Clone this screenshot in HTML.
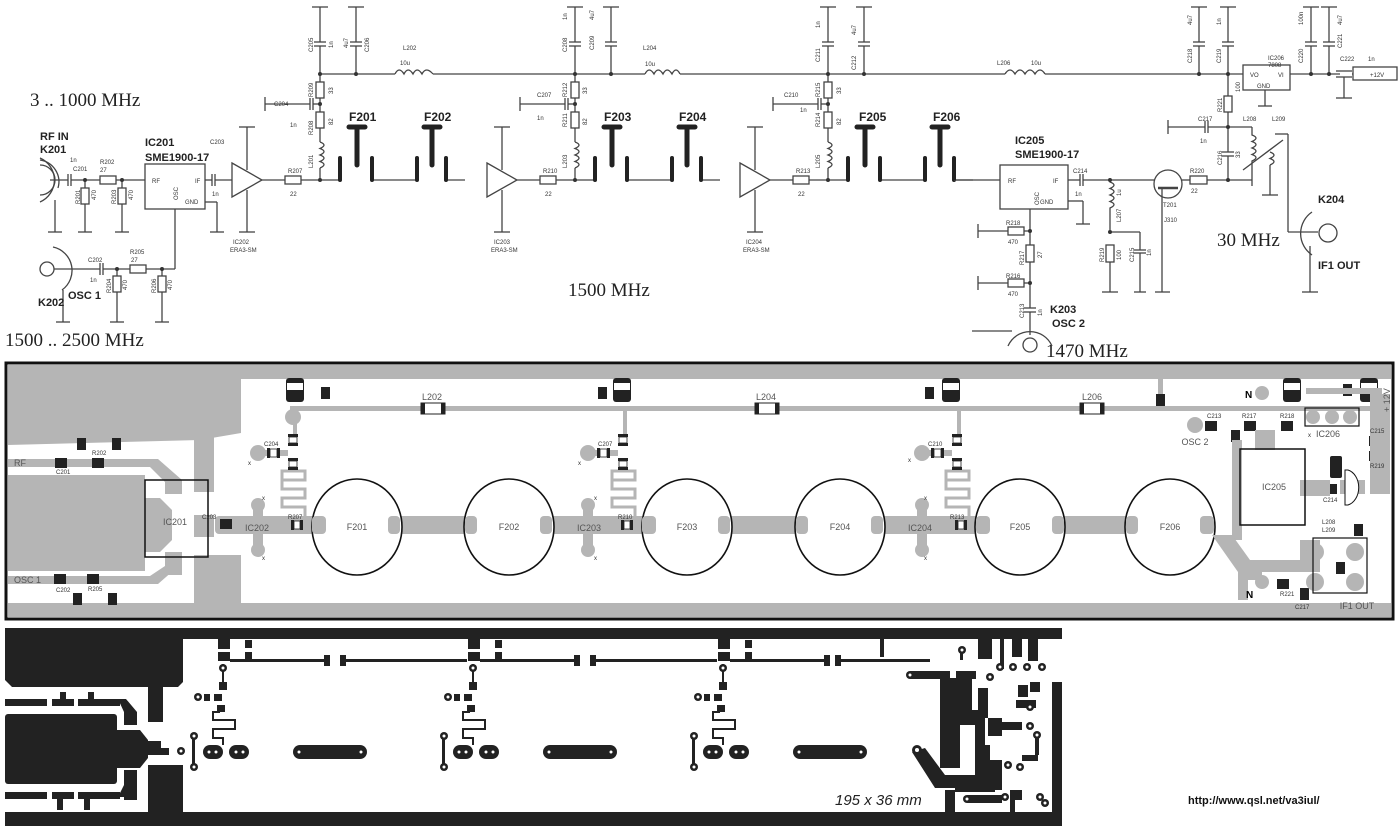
<!DOCTYPE html>
<html><head><meta charset="utf-8"><style>
html,body{margin:0;padding:0;background:#fff}
svg{display:block}
text{font-family:"Liberation Sans",Arial,sans-serif}
.s{font-size:8px;font-weight:bold;fill:#333}
.t{font-size:6px;fill:#333}
.b{font-size:12px;font-weight:bold;fill:#222}
.m{font-family:"Liberation Serif",serif;font-size:19px;fill:#222}
.p{font-size:9px;fill:#555}
.ps{font-size:6px;fill:#333}
</style></head><body>
<svg width="1399" height="827" viewBox="0 0 1399 827" xmlns="http://www.w3.org/2000/svg">
<!-- ================= SCHEMATIC ================= -->
<g stroke="#444" stroke-width="1.3" fill="none">
<!-- rail -->
<line x1="320" y1="74" x2="395" y2="74"/><line x1="433" y1="74" x2="645" y2="74"/><line x1="680" y1="74" x2="1005" y2="74"/><line x1="1045" y1="74" x2="1243" y2="74"/>
<path d="M395 74 q4-8 9 0 q4-8 9 0 q4-8 9 0 q4-8 11 0"/>
<path d="M645 74 q4-8 9 0 q4-8 9 0 q4-8 9 0 q4-8 8 0"/>
<path d="M1005 74 q5-8 10 0 q5-8 10 0 q5-8 10 0 q5-8 10 0"/>
</g>
<!-- stages -->
<g id="st1" transform="translate(320,0)">
<g stroke="#444" stroke-width="1.3" fill="none">
<polygon points="-88,163 -58,180 -88,197" fill="#fff"/>
<line x1="-73" y1="127" x2="-73" y2="170"/><line x1="-73" y1="190" x2="-73" y2="232"/>
<line x1="-81" y1="127" x2="-65" y2="127"/><line x1="-81" y1="232" x2="-65" y2="232"/>
<line x1="-58" y1="180" x2="-35" y2="180"/><rect x="-35" y="176" width="16" height="8" fill="#fff"/><line x1="-19" y1="180" x2="20" y2="180"/>
<line x1="0" y1="7" x2="0" y2="42"/><line x1="-8" y1="7" x2="8" y2="7"/><line x1="-6" y1="42" x2="6" y2="42"/><line x1="-6" y1="46" x2="6" y2="46"/><line x1="0" y1="46" x2="0" y2="82"/>
<rect x="-4" y="82" width="8" height="16" fill="#fff"/><line x1="0" y1="98" x2="0" y2="112"/><rect x="-4" y="112" width="8" height="16" fill="#fff"/><line x1="0" y1="128" x2="0" y2="142"/>
<path d="M0 142 q8 3 0 6.5 q8 3 0 6.5 q8 3 0 6.5 q8 3 0 6.5"/><line x1="0" y1="168" x2="0" y2="180"/>
<line x1="36" y1="7" x2="36" y2="42"/><line x1="28" y1="7" x2="44" y2="7"/><line x1="30" y1="42" x2="42" y2="42"/><line x1="30" y1="46" x2="42" y2="46"/><line x1="36" y1="46" x2="36" y2="74"/>
<line x1="-55" y1="104" x2="-10" y2="104"/><line x1="-55" y1="97" x2="-55" y2="111"/><line x1="-10" y1="98" x2="-10" y2="110"/><line x1="-7" y1="98" x2="-7" y2="110"/><line x1="-7" y1="104" x2="0" y2="104"/>
<line x1="52" y1="180" x2="97" y2="180"/><line x1="126" y1="180" x2="145" y2="180"/>
</g>
<g fill="#333"><circle cx="0" cy="180" r="2"/><circle cx="0" cy="104" r="2"/><circle cx="0" cy="74" r="2"/><circle cx="36" cy="74" r="2"/></g>
<g stroke="#222" stroke-width="4" stroke-linecap="round">
<line x1="20" y1="158" x2="20" y2="180"/><line x1="52" y1="158" x2="52" y2="180"/><line x1="97" y1="158" x2="97" y2="180"/><line x1="126" y1="158" x2="126" y2="180"/>
<line x1="37" y1="128" x2="37" y2="165" stroke-width="5"/><line x1="102" y1="128" x2="112" y2="128" stroke-width="0"/>
<line x1="112" y1="128" x2="112" y2="165" stroke-width="5"/>
<line x1="29" y1="127" x2="45" y2="127" stroke-width="5"/><line x1="104" y1="127" x2="120" y2="127" stroke-width="5"/>
</g>
</g>
<use href="#st1" transform="translate(255,0)"/>
<use href="#st1" transform="translate(508,0)"/>
<!-- stage labels -->
<g class="t">
<text x="-30" y="0"/>
<text x="288" y="173">R207</text><text x="290" y="196">22</text>
<text x="543" y="173">R210</text><text x="545" y="196">22</text>
<text x="796" y="173">R213</text><text x="798" y="196">22</text>
<text x="233" y="244">IC202</text><text x="230" y="252">ERA3-SM</text>
<text x="494" y="244">IC203</text><text x="491" y="252">ERA3-SM</text>
<text x="746" y="244">IC204</text><text x="743" y="252">ERA3-SM</text>
<text x="274" y="106">C204</text><text x="290" y="127">1n</text>
<text x="537" y="97">C207</text><text x="537" y="120">1n</text>
<text x="784" y="97">C210</text><text x="800" y="112">1n</text>
<text x="403" y="50">L202</text><text x="400" y="65">10u</text>
<text x="643" y="50">L204</text><text x="645" y="66">10u</text>
<text x="997" y="65">L206</text><text x="1031" y="65">10u</text>
</g>
<g class="t">
<text transform="translate(313,52) rotate(-90)">C205</text><text transform="translate(333,48) rotate(-90)">1n</text>
<text transform="translate(348,48) rotate(-90)">4u7</text><text transform="translate(369,52) rotate(-90)">C206</text>
<text transform="translate(313,97) rotate(-90)">R209</text><text transform="translate(333,94) rotate(-90)">33</text>
<text transform="translate(313,135) rotate(-90)">R208</text><text transform="translate(333,125) rotate(-90)">82</text>
<text transform="translate(313,168) rotate(-90)">L201</text>
<text transform="translate(567,52) rotate(-90)">C208</text><text transform="translate(567,20) rotate(-90)">1n</text>
<text transform="translate(594,50) rotate(-90)">C209</text><text transform="translate(594,20) rotate(-90)">4u7</text>
<text transform="translate(567,97) rotate(-90)">R212</text><text transform="translate(587,94) rotate(-90)">33</text>
<text transform="translate(567,127) rotate(-90)">R211</text><text transform="translate(587,125) rotate(-90)">82</text>
<text transform="translate(567,168) rotate(-90)">L203</text>
<text transform="translate(820,62) rotate(-90)">C211</text><text transform="translate(820,28) rotate(-90)">1n</text>
<text transform="translate(856,70) rotate(-90)">C212</text><text transform="translate(856,35) rotate(-90)">4u7</text>
<text transform="translate(820,97) rotate(-90)">R215</text><text transform="translate(841,94) rotate(-90)">33</text>
<text transform="translate(820,127) rotate(-90)">R214</text><text transform="translate(841,125) rotate(-90)">82</text>
<text transform="translate(820,168) rotate(-90)">L205</text>
</g>
<g class="b">
<text x="349" y="121">F201</text><text x="424" y="121">F202</text><text x="604" y="121">F203</text><text x="679" y="121">F204</text><text x="859" y="121">F205</text><text x="933" y="121">F206</text>
</g>
<!-- left input section -->
<g stroke="#444" stroke-width="1.3" fill="none">
<path d="M40 165 A15 15 0 0 1 40 195"/><path d="M40 160 A22 22 0 0 1 58 188" />
<path d="M38 156 A26 26 0 0 1 40 204" stroke="none"/>
<path d="M40 158 A24 24 0 0 1 40 202"/>
<line x1="50" y1="180" x2="68" y2="180"/><line x1="68" y1="174" x2="68" y2="186"/><line x1="71" y1="174" x2="71" y2="186"/><line x1="71" y1="180" x2="100" y2="180"/>
<rect x="100" y="176" width="16" height="8" fill="#fff"/><line x1="116" y1="180" x2="145" y2="180"/>
<line x1="55" y1="200" x2="55" y2="232"/><line x1="48" y1="232" x2="62" y2="232"/>
<line x1="85" y1="180" x2="85" y2="188"/><rect x="81" y="188" width="8" height="16" fill="#fff"/><line x1="85" y1="204" x2="85" y2="232"/><line x1="78" y1="232" x2="92" y2="232"/>
<line x1="122" y1="180" x2="122" y2="188"/><rect x="118" y="188" width="8" height="16" fill="#fff"/><line x1="122" y1="204" x2="122" y2="232"/><line x1="115" y1="232" x2="129" y2="232"/>
<rect x="145" y="164" width="60" height="45" fill="#fff"/>
<line x1="205" y1="180" x2="212" y2="180"/><line x1="212" y1="174" x2="212" y2="186"/><line x1="215" y1="174" x2="215" y2="186"/><line x1="215" y1="180" x2="232" y2="180"/>
<line x1="205" y1="202" x2="217" y2="202"/><line x1="217" y1="202" x2="217" y2="232"/><line x1="210" y1="232" x2="224" y2="232"/>
<line x1="175" y1="209" x2="175" y2="269"/>
<circle cx="47" cy="269" r="7"/><path d="M53 247 A24 24 0 0 1 62 290"/>
<line x1="54" y1="269" x2="100" y2="269"/><line x1="100" y1="263" x2="100" y2="275"/><line x1="103" y1="263" x2="103" y2="275"/><line x1="103" y1="269" x2="130" y2="269"/>
<rect x="130" y="265" width="16" height="8" fill="#fff"/><line x1="146" y1="269" x2="175" y2="269"/>
<line x1="63" y1="290" x2="63" y2="322"/><line x1="56" y1="322" x2="70" y2="322"/>
<line x1="117" y1="269" x2="117" y2="276"/><rect x="113" y="276" width="8" height="16" fill="#fff"/><line x1="117" y1="292" x2="117" y2="322"/><line x1="110" y1="322" x2="124" y2="322"/>
<line x1="162" y1="269" x2="162" y2="276"/><rect x="158" y="276" width="8" height="16" fill="#fff"/><line x1="162" y1="292" x2="162" y2="322"/><line x1="155" y1="322" x2="169" y2="322"/>
<line x1="232" y1="180" x2="232" y2="180"/>
</g>
<rect x="-2" y="0" width="0" height="0"/>
<g fill="#333"><circle cx="85" cy="180" r="2"/><circle cx="122" cy="180" r="2"/><circle cx="117" cy="269" r="2"/><circle cx="162" cy="269" r="2"/></g>
<text x="30" y="106" class="m">3 .. 1000 MHz</text>
<text x="5" y="346" class="m">1500 .. 2500 MHz</text>
<text x="568" y="296" class="m">1500 MHz</text>
<text x="1217" y="246" class="m">30 MHz</text>
<text x="1046" y="357" class="m">1470 MHz</text>
<g class="b" style="font-size:11px"><text x="40" y="140">RF IN</text><text x="40" y="153">K201</text><text x="68" y="299">OSC 1</text><text x="38" y="306">K202</text>
<text x="145" y="146">IC201</text><text x="145" y="161">SME1900-17</text>
<text x="1015" y="144">IC205</text><text x="1015" y="158">SME1900-17</text>
<text x="1318" y="203">K204</text><text x="1318" y="269">IF1 OUT</text>
<text x="1050" y="313">K203</text><text x="1052" y="327">OSC 2</text></g>
<g class="t"><text x="70" y="162">1n</text><text x="73" y="171">C201</text><text x="100" y="164">R202</text><text x="100" y="172">27</text>
<text x="152" y="183">RF</text><text x="195" y="183">IF</text><text x="185" y="204">GND</text><text x="210" y="144">C203</text><text x="212" y="196">1n</text>
<text x="88" y="262">C202</text><text x="90" y="282">1n</text><text x="130" y="254">R205</text><text x="131" y="262">27</text>
<text transform="translate(80,204) rotate(-90)">R201</text><text transform="translate(96,200) rotate(-90)">470</text>
<text transform="translate(116,204) rotate(-90)">R203</text><text transform="translate(133,200) rotate(-90)">470</text>
<text transform="translate(111,293) rotate(-90)">R204</text><text transform="translate(127,290) rotate(-90)">470</text>
<text transform="translate(156,293) rotate(-90)">R206</text><text transform="translate(172,290) rotate(-90)">470</text>
<text transform="translate(178,200) rotate(-90)">OSC</text>
</g>
<!-- right section -->
<g stroke="#444" stroke-width="1.3" fill="none">
<line x1="954" y1="180" x2="1000" y2="180"/>
<rect x="1000" y="165" width="68" height="44" fill="#fff"/>
<line x1="1068" y1="180" x2="1080" y2="180"/><line x1="1080" y1="174" x2="1080" y2="186"/><line x1="1083" y1="174" x2="1083" y2="186"/><line x1="1083" y1="180" x2="1155" y2="180"/>
<line x1="1068" y1="201" x2="1083" y2="201"/><line x1="1083" y1="201" x2="1083" y2="224"/><line x1="1076" y1="224" x2="1090" y2="224"/>
<path d="M1110 180 v2 q8 3 0 6.5 q8 3 0 6.5 q8 3 0 6.5 q8 3 0 6.5 v22"/>
<rect x="1106" y="245" width="8" height="17" fill="#fff"/><line x1="1110" y1="262" x2="1110" y2="292"/><line x1="1102" y1="292" x2="1118" y2="292"/>
<line x1="1110" y1="232" x2="1140" y2="232"/><line x1="1140" y1="232" x2="1140" y2="250"/><line x1="1134" y1="250" x2="1146" y2="250"/><line x1="1134" y1="253" x2="1146" y2="253"/><line x1="1140" y1="253" x2="1140" y2="292"/><line x1="1134" y1="292" x2="1146" y2="292"/>
<circle cx="1168" cy="184" r="14"/><line x1="1158" y1="188" x2="1178" y2="188" stroke-width="2.5"/><line x1="1162" y1="188" x2="1162" y2="200"/><line x1="1162" y1="200" x2="1162" y2="292"/><line x1="1155" y1="292" x2="1170" y2="292"/>
<line x1="1182" y1="180" x2="1190" y2="180"/><rect x="1190" y="176" width="17" height="8" fill="#fff"/><line x1="1207" y1="180" x2="1252" y2="180"/>
<line x1="1199" y1="7" x2="1199" y2="42"/><line x1="1191" y1="7" x2="1207" y2="7"/><line x1="1193" y1="42" x2="1205" y2="42"/><line x1="1193" y1="46" x2="1205" y2="46"/><line x1="1199" y1="46" x2="1199" y2="74"/>
<line x1="1228" y1="7" x2="1228" y2="42"/><line x1="1220" y1="7" x2="1236" y2="7"/><line x1="1222" y1="42" x2="1234" y2="42"/><line x1="1222" y1="46" x2="1234" y2="46"/><line x1="1228" y1="46" x2="1228" y2="96"/>
<rect x="1224" y="96" width="8" height="16" fill="#fff"/><line x1="1228" y1="112" x2="1228" y2="152"/><line x1="1222" y1="152" x2="1234" y2="152"/><line x1="1222" y1="156" x2="1234" y2="156"/><line x1="1228" y1="156" x2="1228" y2="180"/>
<line x1="1168" y1="120" x2="1168" y2="134"/><line x1="1168" y1="127" x2="1205" y2="127"/><line x1="1205" y1="121" x2="1205" y2="133"/><line x1="1208" y1="121" x2="1208" y2="133"/><line x1="1208" y1="127" x2="1252" y2="127"/>
<path d="M1252 127 v8 q8 3 0 6.5 q8 3 0 6.5 q8 3 0 6.5 q8 3 0 6.5 v25"/>
<path d="M1270 152 q8 3 0 6.5 q8 3 0 6.5"/><line x1="1270" y1="165" x2="1270" y2="195"/><line x1="1262" y1="195" x2="1278" y2="195"/>
<line x1="1243" y1="170" x2="1283" y2="140"/><line x1="1275" y1="134" x2="1288" y2="134"/><line x1="1288" y1="134" x2="1288" y2="232"/><line x1="1288" y1="232" x2="1318" y2="232"/>
<rect x="1243" y="65" width="47" height="25" fill="#fff"/><line x1="1265" y1="90" x2="1265" y2="106"/><line x1="1258" y1="106" x2="1272" y2="106"/>
<line x1="1290" y1="74" x2="1340" y2="74"/><line x1="1336" y1="71" x2="1352" y2="71"/><line x1="1336" y1="77" x2="1352" y2="77"/><line x1="1344" y1="77" x2="1344" y2="98"/><line x1="1336" y1="98" x2="1352" y2="98"/><line x1="1352" y1="74" x2="1353" y2="74"/>
<rect x="1353" y="67" width="44" height="13" fill="#fff"/>
<line x1="1311" y1="7" x2="1311" y2="42"/><line x1="1303" y1="7" x2="1319" y2="7"/><line x1="1305" y1="42" x2="1317" y2="42"/><line x1="1305" y1="46" x2="1317" y2="46"/><line x1="1311" y1="46" x2="1311" y2="74"/>
<line x1="1329" y1="7" x2="1329" y2="42"/><line x1="1321" y1="7" x2="1337" y2="7"/><line x1="1323" y1="42" x2="1335" y2="42"/><line x1="1323" y1="46" x2="1335" y2="46"/><line x1="1329" y1="46" x2="1329" y2="74"/>
<circle cx="1328" cy="233" r="9"/><path d="M1312 212 A26 26 0 0 0 1312 255"/><line x1="1310" y1="246" x2="1310" y2="292"/><line x1="1302" y1="292" x2="1318" y2="292"/>
<line x1="1030" y1="209" x2="1030" y2="245"/><line x1="978" y1="224" x2="978" y2="238"/><line x1="978" y1="231" x2="1008" y2="231"/><rect x="1008" y="227" width="16" height="8" fill="#fff"/><line x1="1024" y1="231" x2="1030" y2="231"/>
<rect x="1026" y="245" width="8" height="17" fill="#fff"/><line x1="1030" y1="262" x2="1030" y2="308"/>
<line x1="978" y1="276" x2="978" y2="290"/><line x1="978" y1="283" x2="1008" y2="283"/><rect x="1008" y="279" width="16" height="8" fill="#fff"/><line x1="1024" y1="283" x2="1030" y2="283"/>
<line x1="1024" y1="308" x2="1036" y2="308"/><line x1="1024" y1="312" x2="1036" y2="312"/><line x1="1030" y1="312" x2="1030" y2="335"/>
<line x1="972" y1="331" x2="1012" y2="331"/><circle cx="1030" cy="345" r="7"/><path d="M1008 346 A24 24 0 0 1 1052 346"/>
</g>
<g fill="#333"><circle cx="1110" cy="180" r="2"/><circle cx="1110" cy="232" r="2"/><circle cx="1228" cy="180" r="2"/><circle cx="1228" cy="127" r="2"/><circle cx="1228" cy="74" r="2"/><circle cx="1199" cy="74" r="2"/><circle cx="1311" cy="74" r="2"/><circle cx="1329" cy="74" r="2"/><circle cx="1030" cy="231" r="2"/><circle cx="1030" cy="283" r="2"/></g>
<g class="t"><text x="1008" y="183">RF</text><text x="1053" y="183">IF</text><text x="1040" y="204">GND</text><text x="1073" y="173">C214</text><text x="1075" y="196">1n</text>
<text x="1190" y="173">R220</text><text x="1191" y="193">22</text><text x="1163" y="207">T201</text><text x="1164" y="222">J310</text>
<text x="1198" y="121">C217</text><text x="1200" y="143">1n</text><text x="1243" y="121">L208</text><text x="1272" y="121">L209</text>
<text x="1268" y="60">IC206</text><text x="1268" y="67">7808</text><text x="1250" y="77">VO</text><text x="1278" y="77">VI</text><text x="1257" y="88">GND</text>
<text x="1340" y="61">C222</text><text x="1368" y="61">1n</text><text x="1370" y="77">+12V</text>
<text x="1006" y="225">R218</text><text x="1008" y="244">470</text><text x="1006" y="278">R216</text><text x="1008" y="296">470</text>
<text transform="translate(1024,265) rotate(-90)">R217</text><text transform="translate(1042,258) rotate(-90)">27</text>
<text transform="translate(1024,318) rotate(-90)">C213</text><text transform="translate(1042,316) rotate(-90)">1n</text>
<text transform="translate(1104,262) rotate(-90)">R219</text><text transform="translate(1121,260) rotate(-90)">100</text>
<text transform="translate(1134,262) rotate(-90)">C215</text><text transform="translate(1151,256) rotate(-90)">1n</text>
<text transform="translate(1121,196) rotate(-90)">1u</text><text transform="translate(1121,222) rotate(-90)">L207</text>
<text transform="translate(1222,112) rotate(-90)">R221</text><text transform="translate(1240,92) rotate(-90)">100</text>
<text transform="translate(1222,165) rotate(-90)">C216</text><text transform="translate(1240,158) rotate(-90)">33</text>
<text transform="translate(1192,63) rotate(-90)">C218</text><text transform="translate(1192,25) rotate(-90)">4u7</text>
<text transform="translate(1221,63) rotate(-90)">C219</text><text transform="translate(1221,25) rotate(-90)">1n</text>
<text transform="translate(1303,63) rotate(-90)">C220</text><text transform="translate(1303,25) rotate(-90)">100n</text>
<text transform="translate(1342,48) rotate(-90)">C221</text><text transform="translate(1342,25) rotate(-90)">4u7</text>
<text transform="translate(1039,205) rotate(-90)">OSC</text>
</g>
<line x1="954" y1="158" x2="954" y2="180" stroke="#222" stroke-width="4"/>

<!-- ================= PCB (silk) ================= -->
<rect x="6" y="363" width="1387" height="256" fill="#fff" stroke="#111" stroke-width="3"/>
<g fill="#b5b5b5">
<rect x="8" y="365" width="1383" height="14"/>
<polygon points="8,365 241,365 241,433 200,440 8,445"/>
<rect x="194" y="430" width="20" height="62"/>
<rect x="8" y="459" width="150" height="8"/><polygon points="150,459 158,459 182,480 182,494 165,494 165,482 150,467"/>
<rect x="8" y="475" width="137" height="96"/><polygon points="140,498 160,498 172,510 172,540 160,552 140,552"/>
<rect x="165" y="555" width="17" height="20"/>
<rect x="8" y="576" width="150" height="8"/><polygon points="150,584 158,584 182,563 182,552 165,552 165,566 150,576"/>
<rect x="194" y="555" width="47" height="50"/>
<rect x="8" y="603" width="1383" height="14"/>
<rect x="194" y="515" width="20" height="22"/>
<rect x="290" y="406" width="1090" height="5"/>
<rect x="1158" y="378" width="5" height="30"/>
<rect x="293" y="410" width="4" height="25"/><rect x="623" y="410" width="4" height="25"/><rect x="957" y="410" width="4" height="25"/>
<circle cx="293" cy="417" r="8"/>
<rect x="215" y="516" width="1000" height="18" rx="4"/>
<circle cx="240" cy="525" r="6"/>
</g>
<!-- pcb stages -->
<g id="ps">
<g fill="#b5b5b5"><circle cx="258" cy="453" r="8"/><rect x="258" y="450" width="30" height="6"/>
<rect x="253" y="505" width="10" height="45" rx="5"/><circle cx="258" cy="505" r="7"/><circle cx="258" cy="550" r="7"/></g>
<polyline points="289,471 305,471 305,480 282,480 282,489 305,489 305,498 282,498 282,507 305,507 305,516" fill="none" stroke="#b5b5b5" stroke-width="3"/>
<polyline points="289,471 282,471 282,480" fill="none" stroke="#b5b5b5" stroke-width="3"/>
<g fill="#222"><rect x="288" y="434" width="10" height="3"/><rect x="288" y="443" width="10" height="3"/><rect x="288" y="458" width="10" height="3"/><rect x="288" y="467" width="10" height="3"/>
<rect x="267" y="448" width="3" height="10"/><rect x="277" y="448" width="3" height="10"/>
<rect x="291" y="520" width="3" height="10"/><rect x="300" y="520" width="3" height="10"/></g>
<g fill="#fff" stroke="#222" stroke-width="0.8"><rect x="289" y="437" width="8" height="6"/><rect x="289" y="461" width="8" height="6"/><rect x="270" y="449" width="7" height="8"/><rect x="294" y="521" width="6" height="8"/></g>
</g>
<use href="#ps" transform="translate(330,0)"/>
<use href="#ps" transform="translate(664,0)"/>
<!-- filter circles -->
<g fill="#fff" stroke="#111" stroke-width="1.6">
<ellipse cx="357" cy="527" rx="45" ry="48"/><ellipse cx="509" cy="527" rx="45" ry="48"/><ellipse cx="687" cy="527" rx="45" ry="48"/><ellipse cx="840" cy="527" rx="45" ry="48"/><ellipse cx="1020" cy="527" rx="45" ry="48"/><ellipse cx="1170" cy="527" rx="45" ry="48"/>
</g>
<g fill="#b5b5b5"><rect x="312" y="516" width="14" height="18" rx="4"/><rect x="388" y="516" width="12" height="18" rx="4"/><rect x="465" y="516" width="12" height="18" rx="4"/><rect x="540" y="516" width="12" height="18" rx="4"/>
<rect x="642" y="516" width="14" height="18" rx="4"/><rect x="718" y="516" width="12" height="18" rx="4"/><rect x="796" y="516" width="12" height="18" rx="4"/><rect x="871" y="516" width="12" height="18" rx="4"/>
<rect x="976" y="516" width="14" height="18" rx="4"/><rect x="1052" y="516" width="12" height="18" rx="4"/><rect x="1126" y="516" width="12" height="18" rx="4"/><rect x="1200" y="516" width="14" height="18" rx="4"/></g>
<g class="p" text-anchor="middle"><text x="357" y="530">F201</text><text x="509" y="530">F202</text><text x="687" y="530">F203</text><text x="840" y="530">F204</text><text x="1020" y="530">F205</text><text x="1170" y="530">F206</text>
<text x="257" y="531">IC202</text><text x="589" y="531">IC203</text><text x="920" y="531">IC204</text><text x="432" y="400">L202</text><text x="766" y="400">L204</text><text x="1092" y="400">L206</text>
<text x="175" y="525">IC201</text><text x="1274" y="490">IC205</text><text x="1328" y="437">IC206</text><text x="1195" y="445">OSC 2</text><text x="1357" y="609">IF1 OUT</text>
</g>
<text x="14" y="466" class="p">RF</text><text x="14" y="583" class="p">OSC 1</text>
<rect x="145" y="480" width="63" height="77" fill="none" stroke="#111" stroke-width="1.5"/>
<!-- inductors & caps on rail -->
<g><rect x="421" y="403" width="24" height="11" fill="#fff" stroke="#222"/><rect x="421" y="403" width="4" height="11" fill="#222"/><rect x="441" y="403" width="4" height="11" fill="#222"/>
<rect x="755" y="403" width="24" height="11" fill="#fff" stroke="#222"/><rect x="755" y="403" width="4" height="11" fill="#222"/><rect x="775" y="403" width="4" height="11" fill="#222"/>
<rect x="1080" y="403" width="24" height="11" fill="#fff" stroke="#222"/><rect x="1080" y="403" width="4" height="11" fill="#222"/><rect x="1100" y="403" width="4" height="11" fill="#222"/></g>
<g>
<rect x="286" y="378" width="18" height="24" rx="3" fill="#222"/><rect x="287" y="383" width="16" height="7" fill="#fff"/>
<rect x="613" y="378" width="18" height="24" rx="3" fill="#222"/><rect x="614" y="383" width="16" height="7" fill="#fff"/>
<rect x="942" y="378" width="18" height="24" rx="3" fill="#222"/><rect x="943" y="383" width="16" height="7" fill="#fff"/>
<rect x="1283" y="378" width="18" height="24" rx="3" fill="#222"/><rect x="1284" y="383" width="16" height="7" fill="#fff"/>
<rect x="1360" y="378" width="18" height="24" rx="3" fill="#222"/><rect x="1361" y="383" width="16" height="7" fill="#fff"/>
</g>
<g fill="#222"><rect x="321" y="387" width="9" height="12"/><rect x="598" y="387" width="9" height="12"/><rect x="925" y="387" width="9" height="12"/><rect x="1156" y="394" width="9" height="12"/><rect x="1343" y="384" width="9" height="12"/>
<rect x="54" y="574" width="12" height="10"/><rect x="87" y="574" width="12" height="10"/><rect x="55" y="458" width="12" height="10"/><rect x="92" y="458" width="12" height="10"/><rect x="77" y="438" width="9" height="12"/><rect x="112" y="438" width="9" height="12"/><rect x="73" y="593" width="9" height="12"/><rect x="108" y="593" width="9" height="12"/>
<rect x="220" y="519" width="12" height="10"/>
<rect x="1205" y="421" width="12" height="10"/><rect x="1244" y="421" width="12" height="10"/><rect x="1281" y="421" width="12" height="10"/><rect x="1231" y="430" width="9" height="12"/><rect x="1369" y="436" width="12" height="10"/><rect x="1369" y="451" width="12" height="10"/><rect x="1325" y="484" width="12" height="10"/><rect x="1354" y="524" width="9" height="12"/><rect x="1336" y="562" width="9" height="12"/><rect x="1277" y="579" width="12" height="10"/><rect x="1300" y="588" width="9" height="12"/>
<rect x="1330" y="456" width="12" height="22" rx="2"/></g>
<g fill="#b5b5b5">
<circle cx="1262" cy="393" r="7"/><circle cx="1195" cy="425" r="8"/>
<rect x="1232" y="440" width="10" height="100"/><rect x="1255" y="430" width="20" height="20"/>
<polygon points="1212,535 1232,535 1250,560 1300,560 1300,540 1320,540 1320,572 1262,572 1262,580 1248,580 1248,600 1238,600 1238,572"/>
<rect x="1300" y="480" width="30" height="16"/><rect x="1340" y="480" width="25" height="14"/>
<rect x="1306" y="388" width="76" height="6"/><rect x="1370" y="394" width="20" height="100"/>
<circle cx="1315" cy="552" r="9"/><circle cx="1355" cy="552" r="9"/><circle cx="1315" cy="582" r="9"/><circle cx="1355" cy="582" r="9"/><circle cx="1262" cy="582" r="7"/>
</g>
<rect x="1240" y="449" width="65" height="76" fill="none" stroke="#111" stroke-width="1.5"/>
<rect x="1305" y="408" width="54" height="18" fill="none" stroke="#111" stroke-width="1.2"/>
<g fill="#b5b5b5"><circle cx="1313" cy="417" r="7"/><circle cx="1332" cy="417" r="7"/><circle cx="1350" cy="417" r="7"/></g>
<rect x="1313" y="538" width="54" height="55" fill="none" stroke="#111" stroke-width="1.2"/>
<path d="M1348 470 A14 18 0 0 1 1348 505 L1345 505 L1345 470 Z" fill="#fff" stroke="#111" stroke-width="1"/>
<text x="1245" y="398" style="font-size:10px;font-weight:bold">N</text><text x="1246" y="598" style="font-size:10px;font-weight:bold">N</text>
<text transform="translate(1390,412) rotate(-90)" class="p">+ 12V</text>
<g class="ps"><text x="202" y="519">C203</text><text x="288" y="519">R207</text><text x="618" y="519">R210</text><text x="950" y="519">R213</text>
<text x="264" y="446">C204</text><text x="598" y="446">C207</text><text x="928" y="446">C210</text><text x="56" y="474">C201</text><text x="92" y="455">R202</text><text x="56" y="592">C202</text><text x="88" y="591">R205</text>
<text x="1207" y="418">C213</text><text x="1242" y="418">R217</text><text x="1280" y="418">R218</text><text x="1370" y="433">C215</text><text x="1370" y="468">R219</text><text x="1323" y="502">C214</text><text x="1280" y="596">R221</text><text x="1295" y="609">C217</text>
<text x="1322" y="524">L208</text><text x="1322" y="532">L209</text>
<text x="248" y="465">x</text><text x="262" y="500">x</text><text x="262" y="560">x</text><text x="578" y="465">x</text><text x="594" y="500">x</text><text x="594" y="560">x</text><text x="908" y="462">x</text><text x="924" y="500">x</text><text x="924" y="560">x</text><text x="1308" y="437">x</text>
</g>

<!-- ================= COPPER ================= -->
<g fill="#222">
<rect x="5" y="628" width="1057" height="11"/>
<polygon points="5,628 183,628 183,682 178,687 12,687 5,680"/>
<rect x="5" y="812" width="1057" height="14"/>
<rect x="1052" y="682" width="10" height="140"/>
<rect x="5" y="699" width="42" height="7"/><rect x="52" y="699" width="22" height="7"/><rect x="60" y="692" width="6" height="10"/><rect x="78" y="699" width="42" height="7"/><rect x="88" y="692" width="6" height="10"/>
<polygon points="118,699 126,699 137,712 137,725 124,725 124,712"/>
<rect x="5" y="714" width="112" height="70" rx="3"/>
<polygon points="117,730 140,730 148,740 148,758 140,768 117,768"/>
<rect x="148" y="687" width="15" height="35"/><rect x="124" y="770" width="13" height="30"/>
<polygon points="118,797 126,797 137,785 137,770 124,770 124,785"/>
<rect x="5" y="792" width="42" height="7"/><rect x="52" y="792" width="22" height="7"/><rect x="57" y="796" width="6" height="14"/><rect x="78" y="792" width="42" height="7"/><rect x="84" y="796" width="6" height="14"/>
<rect x="148" y="765" width="35" height="47"/>
<rect x="148" y="741" width="13" height="14"/><rect x="161" y="748" width="8" height="7"/>
</g>
<circle cx="181" cy="751" r="4" fill="#222"/><circle cx="181" cy="751" r="1.5" fill="#fff"/>
<g id="cs">
<g fill="#222">
<rect x="218" y="639" width="12" height="10"/><rect x="245" y="640" width="7" height="8"/><rect x="218" y="652" width="12" height="9"/><rect x="245" y="652" width="7" height="8"/>
<rect x="222" y="664" width="2" height="20"/><circle cx="223" cy="668" r="4"/><rect x="219" y="682" width="8" height="8"/>
<circle cx="198" cy="697" r="4"/><rect x="204" y="694" width="6" height="7"/><rect x="214" y="694" width="8" height="7"/><rect x="217" y="705" width="8" height="7"/>
<rect x="192" y="735" width="3" height="34"/><circle cx="194" cy="736" r="4"/><circle cx="194" cy="767" r="4"/>
<rect x="203" y="745" width="20" height="14" rx="7"/><rect x="229" y="745" width="20" height="14" rx="7"/>
<rect x="293" y="745" width="74" height="14" rx="7"/>
</g>
<polyline points="220,712 213,712 213,720 235,720 235,729 213,729 213,738 223,738 223,745" fill="none" stroke="#222" stroke-width="2"/>
<g fill="#fff"><circle cx="223" cy="668" r="1.5"/><circle cx="198" cy="697" r="1.5"/><circle cx="194" cy="736" r="1.5"/><circle cx="194" cy="767" r="1.5"/><circle cx="209" cy="752" r="1.5"/><circle cx="216" cy="752" r="1.5"/><circle cx="236" cy="752" r="1.5"/><circle cx="243" cy="752" r="1.5"/><circle cx="299" cy="752" r="1.5"/><circle cx="361" cy="752" r="1.5"/></g>
</g>
<use href="#cs" transform="translate(250,0)"/>
<use href="#cs" transform="translate(500,0)"/>
<g fill="#222">
<rect x="230" y="659" width="100" height="3"/><rect x="340" y="659" width="127" height="3"/><rect x="480" y="659" width="100" height="3"/><rect x="590" y="659" width="127" height="3"/><rect x="730" y="659" width="95" height="3"/><rect x="835" y="659" width="95" height="3"/>
<rect x="324" y="655" width="6" height="11"/><rect x="340" y="655" width="6" height="11"/><rect x="574" y="655" width="6" height="11"/><rect x="590" y="655" width="6" height="11"/><rect x="824" y="655" width="6" height="11"/><rect x="835" y="655" width="6" height="11"/>
<rect x="880" y="639" width="4" height="18"/>
<!-- right cluster -->
<circle cx="962" cy="650" r="4"/><rect x="960" y="650" width="3" height="10"/>
<rect x="978" y="639" width="14" height="20"/><rect x="1000" y="639" width="4" height="30"/><rect x="1012" y="639" width="10" height="18"/><rect x="1028" y="639" width="10" height="22"/>
<circle cx="1000" cy="667" r="4"/><circle cx="1013" cy="667" r="4"/><circle cx="1027" cy="667" r="4"/><circle cx="1042" cy="667" r="4"/>
<circle cx="910" cy="675" r="4"/><rect x="910" y="671" width="40" height="8"/><rect x="956" y="671" width="20" height="8"/><circle cx="990" cy="677" r="4"/>
<rect x="940" y="678" width="20" height="90"/><rect x="960" y="678" width="12" height="32"/><rect x="978" y="688" width="10" height="30"/>
<polygon points="960,710 985,710 985,760 975,760 975,725 960,725"/>
<rect x="988" y="718" width="14" height="18"/><rect x="1002" y="722" width="20" height="8"/><circle cx="1030" cy="726" r="4"/><circle cx="1030" cy="707" r="4"/><rect x="1016" y="700" width="20" height="8"/>
<rect x="1018" y="685" width="10" height="12"/><rect x="1030" y="682" width="10" height="10"/>
<polygon points="912,752 935,788 990,788 990,745 975,745 975,775 945,775 925,748"/>
<circle cx="917" cy="750" r="5"/>
<rect x="990" y="760" width="12" height="30"/><circle cx="1008" cy="765" r="4"/>
<rect x="945" y="790" width="10" height="22"/><rect x="955" y="788" width="40" height="4"/>
<circle cx="1037" cy="735" r="4"/><rect x="1035" y="735" width="4" height="20"/><rect x="1022" y="755" width="16" height="6"/><circle cx="1020" cy="767" r="4"/>
<circle cx="967" cy="799" r="4"/><rect x="967" y="795" width="35" height="8"/><circle cx="1005" cy="797" r="4"/><rect x="1010" y="790" width="12" height="10"/><circle cx="1040" cy="797" r="4"/><circle cx="1045" cy="803" r="4"/>
<rect x="1010" y="799" width="5" height="13"/>
</g>
<g fill="#fff"><circle cx="962" cy="650" r="1.5"/><circle cx="1000" cy="667" r="1.5"/><circle cx="1013" cy="667" r="1.5"/><circle cx="1027" cy="667" r="1.5"/><circle cx="1042" cy="667" r="1.5"/><circle cx="910" cy="675" r="1.5"/><circle cx="990" cy="677" r="1.5"/><circle cx="1030" cy="726" r="1.5"/><circle cx="1030" cy="707" r="1.5"/><circle cx="917" cy="750" r="2"/><circle cx="1008" cy="765" r="1.5"/><circle cx="1037" cy="735" r="1.5"/><circle cx="1020" cy="767" r="1.5"/><circle cx="967" cy="799" r="1.5"/><circle cx="1005" cy="797" r="1.5"/><circle cx="1040" cy="797" r="1.5"/><circle cx="1045" cy="803" r="1.5"/></g>
<text x="835" y="805" style="font-size:15px;font-style:italic;fill:#222">195 x 36 mm</text>
<text x="1188" y="804" style="font-size:11px;font-weight:bold;fill:#111">http://www.qsl.net/va3iul/</text>
</svg>
</body></html>
